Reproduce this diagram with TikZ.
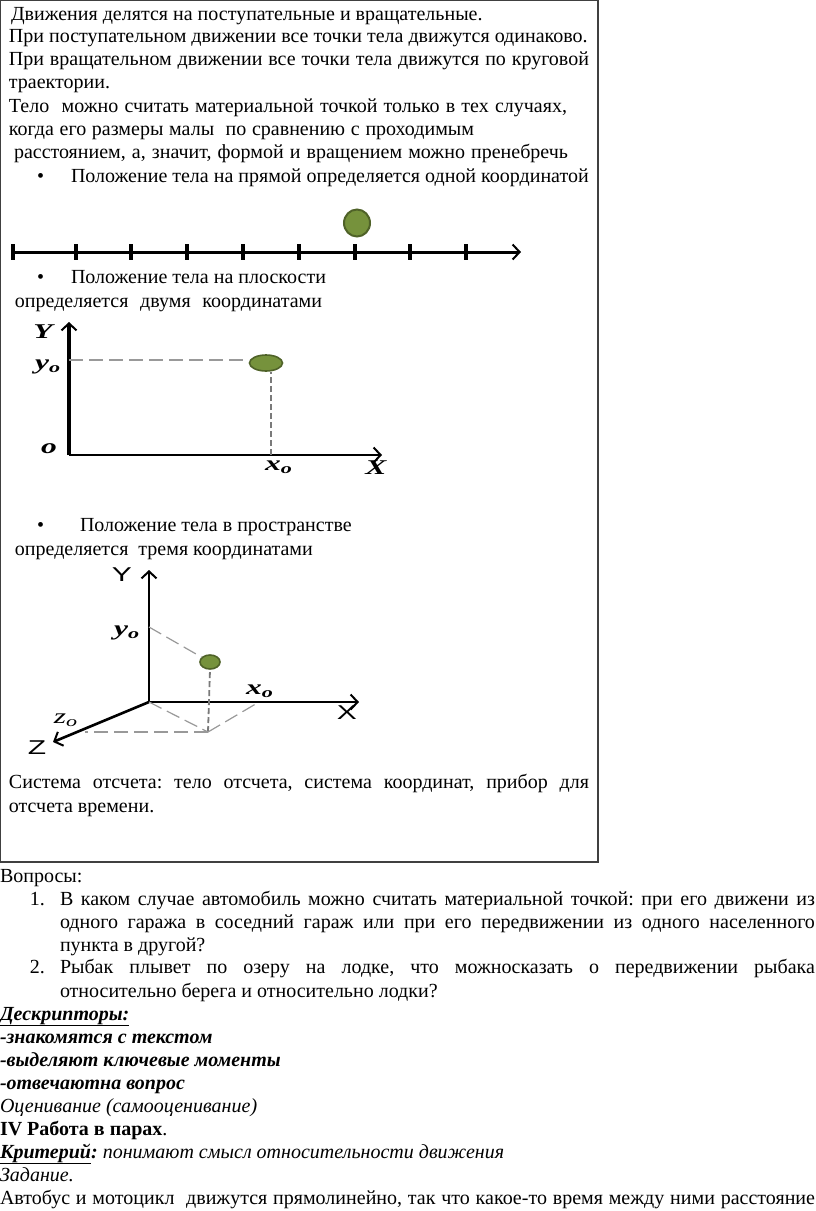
\documentclass[tikz,border=0pt]{standalone}
\usepackage{fontspec}
\setmainfont{Liberation Serif}
\newfontfamily\axisfont{Liberation Sans}
\usetikzlibrary{shapes.geometric,arrows.meta}
\definecolor{olivefill}{HTML}{76923C}
\definecolor{oliveedge}{HTML}{4F6228}
\definecolor{framegray}{HTML}{404040}
\definecolor{dashgray}{HTML}{999999}
\frenchspacing
\tikzset{
    >={Straight Barb[length=7pt,width=15pt,line width=2pt]},
    textline/.style={anchor=base west, inner sep=0pt, outer sep=0pt, font=\fontsize{20}{24}\selectfont},
    axisline/.style={line width=2.4pt, ->, black},
    projline/.style={dash pattern=on 14pt off 6pt, dashgray, line width=1.2pt},
    projdense/.style={dash pattern=on 6pt off 3pt, dashgray!80!black, line width=1.8pt},
    pointdot/.style={ellipse, draw=oliveedge, fill=olivefill, line width=1.6pt, inner sep=0pt},
    coordlabel/.style={inner sep=0pt, font=\fontsize{21}{21}\selectfont\bfseries\itshape, xscale=1.5},
    sanslabel/.style={inner sep=0pt, font=\fontsize{20}{20}\selectfont\axisfont, xscale=1.5},
}
\begin{document}
\begin{tikzpicture}[x=1pt,y=-1pt]
    \useasboundingbox (0,0) rectangle (816,1211);
    \begin{scope}
    \clip (0,0) rectangle (816,1211);

    % Frame around the upper part
    \draw[framegray, line width=1.2pt] (0.5,0) rectangle (598,862);

    % Text in the frame
    \node[textline] (t1) at (11,20) {Движения делятся на поступательные и вращательные.};
    \node[textline] (t2) at (9,42) {При поступательном движении все точки тела движутся одинаково.};
    \node[textline] (t3) at (9,65) {\makebox[580pt][s]{При вращательном движении все точки тела движутся по круговой}};
    \node[textline] (t4) at (9,88) {траектории.};
    \node[textline] (t5) at (9,112) {\makebox[558pt][s]{Тело\ \ можно считать материальной точкой только в тех случаях,}};
    \node[textline] (t6) at (9,135) {\makebox[465pt][s]{когда его размеры малы\ \ по сравнению с проходимым}};
    \node[textline] (t7) at (14,158) {\makebox[554pt][s]{расстоянием, а, значит, формой и вращением можно пренебречь}};
    \node[textline] (b1) at (37,182) {•};
    \node[textline] (t8) at (71,182) {Положение тела на прямой определяется одной координатой};

    % Number line
    \coordinate (linestart) at (13,252);
    \coordinate (lineend) at (521,252);
    \draw[axisline, line width=3pt] (linestart) -- (lineend);
    \foreach \x in {13,76,131,187,243,299,355,410,466} {
        \draw[line width=3.2pt] (\x,244) -- (\x,260);
    }
    \node[pointdot, line width=2pt, minimum width=26pt, minimum height=27pt] (dotline) at (357,223) {};

    \node[textline] (b2) at (37,283) {•};
    \node[textline] (t9) at (71,283) {Положение тела на плоскости};
    \node[textline] (t10) at (15,307) {\makebox[307pt][s]{определяется\ \ двумя\ \ координатами}};

    % Plane axes
    \coordinate (oplane) at (69,455);
    \coordinate (yplane) at (69,322);
    \coordinate (xplane) at (382,455);
    \coordinate (y0plane) at (69,360);
    \coordinate (x0plane) at (271,455);
    \draw[axisline, line width=3.2pt] (oplane) -- (yplane);
    \draw[axisline] (oplane) -- (xplane);
    \node[pointdot, minimum width=33pt, minimum height=16pt] (dotplane) at (266,363) {};
    \draw[projline] (y0plane) -- (dotplane.west |- y0plane);
    \draw[projdense] (x0plane) -- (x0plane |- dotplane.south);
    \node[coordlabel] (ylabel) at (43,332) {Y};
    \node[coordlabel] (y0label) at (48,367) {y\textsubscript{o}};
    \node[coordlabel] (olabel) at (49,449) {o};
    \node[coordlabel] (x0label) at (279,467) {x\textsubscript{o}};
    \node[coordlabel] (xlabel) at (376,468) {X};

    \node[textline] (b3) at (37,531) {•};
    \node[textline] (t11) at (80,531) {Положение тела в пространстве};
    \node[textline] (t12) at (15,555) {определяется\ \ тремя координатами};

    % Space axes
    \coordinate (ospace) at (149,702);
    \coordinate (yspace) at (149,570);
    \coordinate (xspace) at (359,702);
    \coordinate (zspace) at (53,742);
    \coordinate (y0space) at (149,627);
    \coordinate (x0space) at (259,702);
    \coordinate (z0space) at (85,732);
    \coordinate (floor) at (208,732);
    \draw[axisline, line width=2.8pt] (ospace) -- (yspace);
    \draw[axisline, line width=2.2pt] (ospace) -- (xspace);
    \draw[axisline, line width=2.6pt] (ospace) -- (zspace);
    \node[pointdot, minimum width=20pt, minimum height=14pt] (dotspace) at (210,662) {};
    \draw[projline] (y0space) -- (dotspace);
    \draw[projdense] (floor) -- (dotspace.south);
    \draw[projline] (ospace) -- (floor);
    \draw[projline] (floor) -- (x0space);
    \draw[projline] (floor) -- (z0space);
    \node[sanslabel] (yaxis) at (122,575) {Y};
    \node[coordlabel] (y0mark) at (127,633) {y\textsubscript{o}};
    \node[coordlabel] (x0mark) at (260,691) {x\textsubscript{o}};
    \node[sanslabel] (xaxis) at (347,713) {X};
    \node[coordlabel, font=\fontsize{21}{21}\selectfont\itshape] (z0mark) at (66,720) {z\textsubscript{o}};
    \node[sanslabel] (zaxis) at (37,748) {Z};

    \node[textline] (t13) at (9,788) {\makebox[580pt][s]{Система отсчета: тело отсчета, система координат, прибор для}};
    \node[textline] (t14) at (9,812) {отсчета времени.};

    % Text below the frame
    \node[textline] (q0) at (0,882) {Вопросы:};
    \node[textline] (n1) at (30,905) {1.};
    \node[textline] (q1) at (60,905) {\makebox[755pt][s]{В каком случае автомобиль можно считать материальной точкой: при его движени из}};
    \node[textline] (q2) at (60,928) {\makebox[755pt][s]{одного гаража в соседний гараж или при его передвижении из одного населенного}};
    \node[textline] (q3) at (60,951) {пункта в другой?};
    \node[textline] (n2) at (30,973) {2.};
    \node[textline] (q4) at (60,973) {\makebox[755pt][s]{Рыбак плывет по озеру на лодке, что можноcказать о передвижении рыбака}};
    \node[textline] (q5) at (60,997) {относительно берега и относительно лодки?};
    \node[textline] (d0) at (0,1020) {\textbf{\textit{\underline{Дескрипторы:}}}};
    \node[textline] (d1) at (0,1043) {\textbf{\textit{-знакомятся с текстом}}};
    \node[textline] (d2) at (0,1066) {\textbf{\textit{-выделяют ключевые моменты}}};
    \node[textline] (d3) at (0,1089) {\textbf{\textit{-отвечаютна вопрос}}};
    \node[textline] (d4) at (0,1112) {\textit{Оценивание (самооценивание)}};
    \node[textline] (d5) at (0,1135) {\textbf{IV Работа в парах}.};
    \node[textline] (d6) at (0,1158) {\textbf{\textit{\underline{Критерий}:}} \textit{понимают смысл относительности движения}};
    \node[textline] (d7) at (0,1181) {\textit{Задание.}};
    \node[textline] (d8) at (0,1204) {\makebox[815pt][s]{Автобус и мотоцикл\ \ движутся прямолинейно, так что какое-то время между ними расстояние}};
    \end{scope}
\end{tikzpicture}
\end{document}
